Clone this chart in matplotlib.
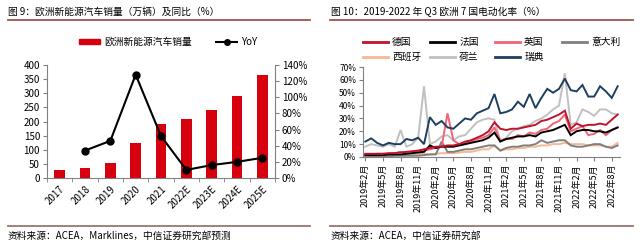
import matplotlib
matplotlib.use("Agg")
import matplotlib.pyplot as plt
from matplotlib.lines import Line2D
from matplotlib.patches import Patch
from matplotlib.ticker import FuncFormatter, FixedLocator

plt.rcParams['font.family'] = ['Noto Sans CJK SC', 'DejaVu Sans']
plt.rcParams['axes.unicode_minus'] = False

#===============================================================================
# DATA
#===============================================================================
years = ['2017', '2018', '2019', '2020', '2021', '2022E', '2023E', '2024E', '2025E']
sales = [27, 36, 53, 125, 190, 210, 242, 290, 365]          # 万辆
yoy = [None, 34, 46, 128, 52, 10, 16, 20, 25]               # %

# monthly share, Feb 2019 .. Sep 2022 (%)
germany = [2.5, 2.5, 2.5, 2.5, 3, 3, 3.5, 4, 4.5, 5, 6,
           7, 8, 8, 9, 9, 10, 12, 13, 15, 17, 20, 27,
           22, 21, 22, 22, 23, 24, 25, 28, 29, 31, 33, 36,
           22, 26, 24, 25, 25, 26, 25, 29, 33]
france = [1.5, 1.5, 1.5, 1.5, 2, 2, 2, 2.5, 3, 3.5, 4,
          9, 7, 8, 8, 8, 9, 10, 11, 12, 13, 15, 19,
          12, 14, 15, 16, 16, 17, 16, 19, 20, 21, 23, 25,
          17, 20, 21, 21, 20, 20, 19, 21, 23]
uk = [2, 2, 2.5, 2.5, 2.5, 3, 4, 3, 4, 4, 5,
      6, 7, 8, 34, 13, 10, 11, 12, 14, 15, 17, 23,
      13, 14, 14, 17, 16, 19, 18, 21, 22, 26, 28, 33,
      20, 22, 24, 17, 18, 21, 17, 21, 23]
italy = [0.5, 0.5, 0.5, 0.5, 0.5, 1, 1, 1, 1, 1, 1.5,
         2, 2, 12, 4, 4, 5, 6, 6, 7, 8, 9, 9,
         5, 7, 8, 8, 9, 9, 10, 13, 11, 12, 13, 13,
         9, 8, 8, 9, 10, 10, 8, 7, 9]
spain = [1, 1, 1, 1, 1, 1.5, 1.5, 1.5, 2, 2, 2.5,
         2, 2.5, 3, 3, 3, 3.5, 4, 4, 5, 6, 6, 9,
         5, 6, 6, 7, 7, 8, 8, 9, 9, 10, 10, 11,
         10, 10, 10, 9, 9, 9, 8, 8, 11]
netherlands = [8, 10, 9, 8, 10, 8, 21, 8, 10, 15, 55,
               10, 12, 16, 17, 13, 16, 17, 22, 27, 29, 30, 29,
               12, 15, 20, 22, 24, 25, 28, 30, 33, 37, 40, 65,
               25, 27, 37, 35, 32, 37, 37, 34, 33]
sweden = [12, 14.5, 11, 9, 11, 10, 10, 14, 13, 15, 10,
          31, 25, 28, 23, 22, 26, 30, 29, 34, 36, 38, 49,
          34, 35, 37, 43, 39, 49, 38, 46, 53, 50, 53, 61,
          52, 51, 56, 47, 47, 55, 51, 46, 55]
month_ticks = ['2019年2月', '2019年5月', '2019年8月', '2019年11月',
               '2020年2月', '2020年5月', '2020年8月', '2020年11月',
               '2021年2月', '2021年5月', '2021年8月', '2021年11月',
               '2022年2月', '2022年5月', '2022年8月']

#===============================================================================
# FIGURE
#===============================================================================
W, H = 640, 243
fig = plt.figure(figsize=(W/100, H/100), dpi=100)

def box(x0, y0, x1, y1):
    # pixel box (top-left origin) -> figure fraction rect
    return [x0/W, 1 - y1/H, (x1-x0)/W, (y1-y0)/H]

def hline(x0, x1, y, c='#A0524F'):
    fig.add_artist(Line2D([x0/W, x1/W], [1-y/H, 1-y/H], color=c, lw=1.3,
                          transform=fig.transFigure))

FS = 7
spine_c = '#808080'

# titles, rules, sources
fig.text(8/W, 1-12/H, '图 9：欧洲新能源汽车销量（万辆）及同比（%）', fontsize=FS, va='center')
fig.text(331/W, 1-12/H, '图 10：2019-2022 年 Q3 欧洲 7 国电动化率（%）', fontsize=FS, va='center')
hline(8, 310, 20)
hline(330, 633, 20)
hline(8, 310, 226, '#9B7670')
hline(330, 633, 226, '#9B7670')
fig.text(8/W, 1-236/H, '资料来源：ACEA，Marklines，中信证券研究部预测', fontsize=FS, va='center')
fig.text(331/W, 1-236/H, '资料来源：ACEA，中信证券研究部', fontsize=FS, va='center')

#-------------------------------------------------------------------------------
# left: sales + yoy
#-------------------------------------------------------------------------------
ax = fig.add_axes(box(47, 65, 275, 178))
x = list(range(len(years)))
ax.bar(x, sales, width=0.42, color='#D7000F', zorder=2)
ax.set_xlim(-0.5, len(years)-0.5)
ax.set_ylim(0, 400)
ax.set_yticks(range(0, 401, 50))
ax.set_xticks(x)
ax.set_xticklabels(years, rotation=45, ha='right', va='top', rotation_mode='anchor')
ax.xaxis.set_minor_locator(FixedLocator([i + 0.5 for i in range(-1, len(years))]))
ax.tick_params(axis='x', which='major', length=0, pad=4, labelsize=FS)
ax.tick_params(axis='x', which='minor', length=3, color=spine_c, direction='out')
ax.tick_params(axis='y', length=3, color=spine_c, labelsize=FS, pad=2)
for s in ['top', 'right']:
    ax.spines[s].set_visible(False)
for s in ['left', 'bottom']:
    ax.spines[s].set_color(spine_c)
    ax.spines[s].set_linewidth(0.8)

ax2 = ax.twinx()
yx = [i for i, v in zip(x, yoy) if v is not None]
yv = [v for v in yoy if v is not None]
ax2.plot(yx, yv, color='black', lw=1.5, marker='o', markersize=5, zorder=3)
ax2.set_ylim(0, 140)
ax2.set_yticks(range(0, 141, 20))
ax2.yaxis.set_major_formatter(FuncFormatter(lambda v, p: f'{v:.0f}%'))
ax2.tick_params(axis='y', length=3, color=spine_c, labelsize=FS, pad=2)
for s in ['top', 'left', 'bottom']:
    ax2.spines[s].set_visible(False)
ax2.spines['right'].set_color(spine_c)
ax2.spines['right'].set_linewidth(0.8)

leg1 = [Patch(color='#D7000F', label='欧洲新能源汽车销量'),
        Line2D([], [], color='black', lw=1.5, marker='o', markersize=4, label='YoY')]
fig.legend(handles=leg1, loc='center', bbox_to_anchor=(168/W, 1-42/H), ncol=2,
           frameon=False, fontsize=FS, handlelength=2.2, handletextpad=0.4,
           columnspacing=2.5, handleheight=0.5)

#-------------------------------------------------------------------------------
# right: share by country
#-------------------------------------------------------------------------------
bx = fig.add_axes(box(363, 67, 620, 157))
series = [('德国', germany, '#C0142D'),
          ('法国', france, '#000000'),
          ('英国', uk, '#F06475'),
          ('意大利', italy, '#7F7F7F'),
          ('西班牙', spain, '#F4B995'),
          ('荷兰', netherlands, '#C0C0C0'),
          ('瑞典', sweden, '#1F3F5F')]
draw_order = ['荷兰', '西班牙', '意大利', '英国', '法国', '德国', '瑞典']
lookup = {n: (d, c) for n, d, c in series}
for n in draw_order:
    d, c = lookup[n]
    bx.plot(range(len(d)), d, color=c, lw=1.4, solid_joinstyle='miter')
bx.set_ylim(0, 70)
bx.set_xlim(-0.4, len(sweden)-0.6)
bx.set_yticks(range(0, 71, 10))
bx.yaxis.set_major_formatter(FuncFormatter(lambda v, p: f'{v:.0f}%'))
bx.set_xticks(range(0, len(sweden), 3))
bx.set_xticklabels(month_ticks, rotation=90)
bx.tick_params(axis='x', length=3, color=spine_c, labelsize=6.5, pad=2)
bx.tick_params(axis='y', length=3, color=spine_c, labelsize=6, pad=2)
for s in ['top', 'right']:
    bx.spines[s].set_visible(False)
for s in ['left', 'bottom']:
    bx.spines[s].set_color(spine_c)
    bx.spines[s].set_linewidth(0.8)

# legend entries sit on a fixed grid: 4 per row
leg_x = [363, 430, 495, 562]
leg_y = [42, 57]
for k, (n, d, c) in enumerate(series):
    h = Line2D([], [], color=c, lw=2, label=n)
    fig.legend(handles=[h], loc='center left',
               bbox_to_anchor=(leg_x[k % 4]/W, 1-leg_y[k // 4]/H),
               frameon=False, fontsize=FS, handlelength=2.6, handletextpad=0.4,
               borderaxespad=0, borderpad=0)

fig.savefig('out.png', dpi=100)
